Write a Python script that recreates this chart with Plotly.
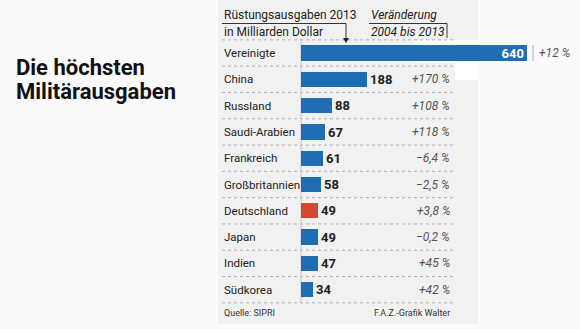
import plotly.graph_objects as go

countries = ["Vereinigte", "China", "Russland", "Saudi-Arabien", "Frankreich",
             "Großbritannien", "Deutschland", "Japan", "Indien", "Südkorea"]
spending = [640, 188, 88, 67, 61, 58, 49, 49, 47, 34]
change = ["+12 %", "+170 %", "+108 %", "+118 %", "−6,4 %",
          "−2,5 %", "+3,8 %", "−0,2 %", "+45 %", "+42 %"]
highlight = "Deutschland"

W, H = 580, 329
ROW0, ROWH = 53.0, 26.3
X0, XSCALE = 301.0, 226.0 / 640.0


def px(x):
    return x / W


def py(y):
    return 1 - y / H


FONT = "Roboto, Liberation Sans, sans-serif"
BLUE = "#1f6db3"
RED = "#d4462f"

colors = [RED if c == highlight else BLUE for c in countries]
positions = ["inside"] + ["outside"] * (len(countries) - 1)

fig = go.Figure()
fig.add_trace(go.Bar(
    y=countries, x=spending, orientation="h",
    marker=dict(color=colors, line=dict(width=0)),
    width=0.58,
    texttemplate="<b>%{x}</b>",
    textposition=positions,
    insidetextanchor="end",
    constraintext="none",
    insidetextfont=dict(color="white", size=13, family=FONT),
    outsidetextfont=dict(color="#222222", size=13, family=FONT),
    cliponaxis=False,
    hoverinfo="skip",
))

y_top = -ROW0 / ROWH
y_bot = (H - ROW0) / ROWH
x_max = (W - X0) / XSCALE

shapes = []
shapes.append(dict(type="rect", xref="paper", yref="paper", x0=px(218), x1=px(478),
                   y0=py(324), y1=py(0), fillcolor="#f1f1f1", line=dict(width=0), layer="below"))
shapes.append(dict(type="rect", xref="paper", yref="paper", x0=px(415), x1=px(479),
                   y0=py(63), y1=py(40), fillcolor="#ffffff", line=dict(width=0), layer="below"))
shapes.append(dict(type="rect", xref="paper", yref="paper", x0=px(455), x1=px(479),
                   y0=py(80), y1=py(63), fillcolor="#ffffff", line=dict(width=0), layer="below"))
for i in range(len(countries) + 1):
    yy = ROW0 + (i - 0.5) * ROWH
    shapes.append(dict(type="line", xref="paper", yref="paper", x0=px(222), x1=px(455),
                       y0=py(yy), y1=py(yy), line=dict(color="#b0b0b0", width=1, dash="dot"),
                       layer="below"))
shapes.append(dict(type="line", xref="paper", yref="paper", x0=px(301), x1=px(301),
                   y0=py(40), y1=py(303), line=dict(color="#c4c4c4", width=1), layer="below"))
shapes.append(dict(type="line", xref="paper", yref="paper", x0=px(533), x1=px(533),
                   y0=py(45), y1=py(61), line=dict(color="#9fb4c8", width=1)))
shapes.append(dict(type="line", xref="paper", yref="paper", x0=px(222), x1=px(346),
                   y0=py(23.5), y1=py(23.5), line=dict(color="#333", width=1)))
shapes.append(dict(type="line", xref="paper", yref="paper", x0=px(346), x1=px(346),
                   y0=py(23.5), y1=py(39), line=dict(color="#333", width=1)))
shapes.append(dict(type="path", xref="paper", yref="paper",
                   path=f"M {px(343)} {py(38)} L {px(349)} {py(38)} L {px(346)} {py(43)} Z",
                   fillcolor="#222", line=dict(width=0)))
shapes.append(dict(type="line", xref="paper", yref="paper", x0=px(369), x1=px(447),
                   y0=py(23.5), y1=py(23.5), line=dict(color="#333", width=1)))
shapes.append(dict(type="line", xref="paper", yref="paper", x0=px(447), x1=px(447),
                   y0=py(23.5), y1=py(38), line=dict(color="#333", width=1)))

ann = []
ann.append(dict(text="<b>Die höchsten</b>", x=px(14), y=py(67), xref="paper", yref="paper",
                xanchor="left", yanchor="middle", showarrow=False,
                font=dict(family=FONT, size=22, color="#111")))
ann.append(dict(text="<b>Militärausgaben</b>", x=px(14), y=py(91), xref="paper", yref="paper",
                xanchor="left", yanchor="middle", showarrow=False,
                font=dict(family=FONT, size=22, color="#111")))
for txt, yy, xx, it in [("Rüstungsausgaben 2013", 15, 222, False),
                        ("in Milliarden Dollar", 32, 222, False),
                        ("Veränderung", 15, 369, True),
                        ("2004 bis 2013", 32, 369, True)]:
    ann.append(dict(text=txt, x=px(xx), y=py(yy), xref="paper", yref="paper",
                    xanchor="left", yanchor="middle", showarrow=False,
                    font=dict(family=FONT, size=12, color="#222",
                              style="italic" if it else "normal")))
for i, (c, ch) in enumerate(zip(countries, change)):
    ann.append(dict(text=c, x=px(222), y=c, xref="paper", yref="y",
                    xanchor="left", yanchor="middle", showarrow=False,
                    font=dict(family=FONT, size=11.5, color="#222")))
    if i == 0:
        ann.append(dict(text=ch, x=px(537), y=c, xref="paper", yref="y",
                        xanchor="left", yanchor="middle", showarrow=False,
                        font=dict(family=FONT, size=12, color="#555", style="italic")))
    else:
        ann.append(dict(text=ch, x=px(452), y=c, xref="paper", yref="y",
                        xanchor="right", yanchor="middle", showarrow=False,
                        font=dict(family=FONT, size=12, color="#555", style="italic")))
ann.append(dict(text="Quelle: SIPRI", x=px(222), y=py(313), xref="paper", yref="paper",
                xanchor="left", yanchor="middle", showarrow=False,
                font=dict(family=FONT, size=9, color="#333")))
ann.append(dict(text="F.A.Z.-Grafik Walter", x=px(452), y=py(313), xref="paper", yref="paper",
                xanchor="right", yanchor="middle", showarrow=False,
                font=dict(family=FONT, size=9, color="#333")))

fig.update_layout(
    width=W, height=H,
    margin=dict(l=0, r=0, t=0, b=0),
    paper_bgcolor="#fafafa",
    plot_bgcolor="rgba(0,0,0,0)",
    showlegend=False,
    shapes=shapes,
    annotations=ann,
    xaxis=dict(domain=[px(X0), 1], range=[0, x_max], visible=False, fixedrange=True),
    yaxis=dict(domain=[0, 1], type="category", categoryorder="array", categoryarray=countries,
               range=[y_bot, y_top], visible=False, fixedrange=True),
    bargap=0,
)

fig.write_html("out.html")
